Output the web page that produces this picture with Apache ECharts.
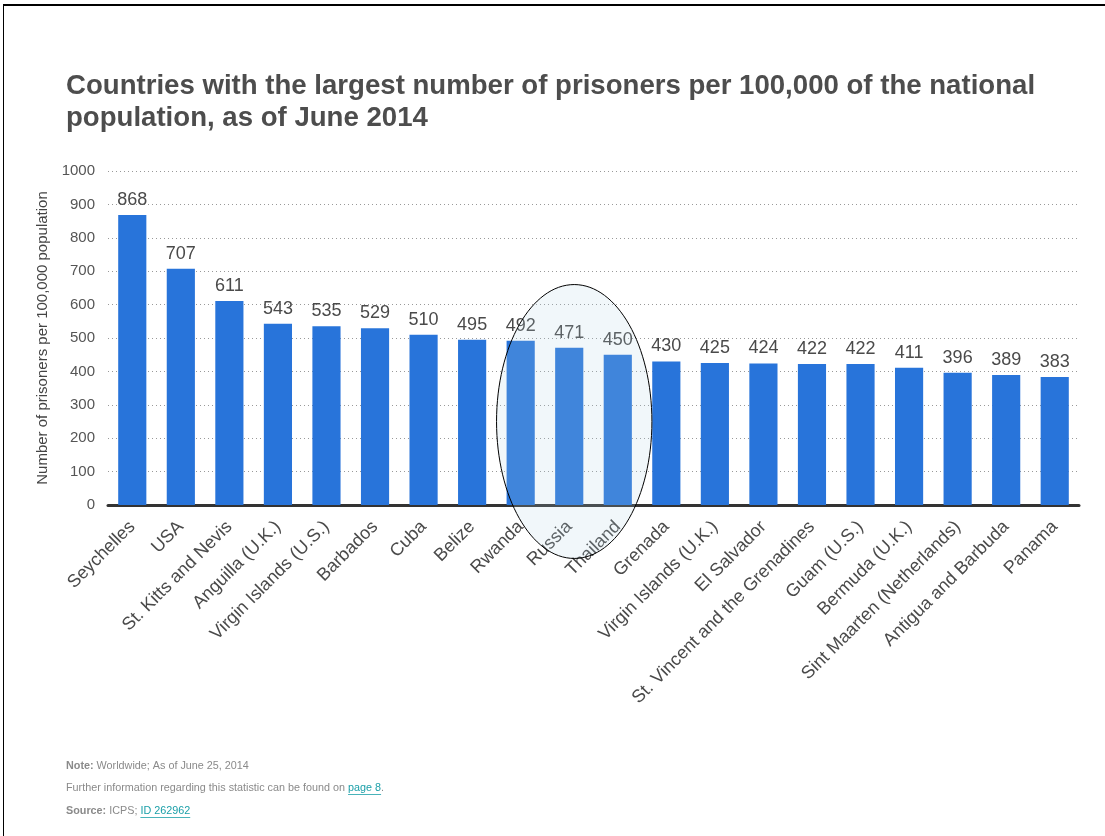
<!DOCTYPE html>
<html><head><meta charset="utf-8">
<script src="https://cdn.jsdelivr.net/npm/echarts@6/dist/echarts.min.js"></script>
<style>
html,body{margin:0;padding:0;background:#fff;}
#frame{position:absolute;left:3px;top:4px;width:1102px;height:832px;border-top:2px solid #000;border-left:1px solid #000;box-sizing:border-box;}
#chart{position:absolute;left:0;top:0;width:1105px;height:836px;}
</style></head>
<body>
<div id="frame"></div>
<div id="chart"></div>
<script>
const categories = ['Seychelles','USA','St. Kitts and Nevis','Anguilla (U.K.)','Virgin Islands (U.S.)','Barbados','Cuba','Belize','Rwanda','Russia','Thailand','Grenada','Virgin Islands (U.K.)','El Salvador','St. Vincent and the Grenadines','Guam (U.S.)','Bermuda (U.K.)','Sint Maarten (Netherlands)','Antigua and Barbuda','Panama'];
const values = [868,707,611,543,535,529,510,495,492,471,450,430,425,424,422,422,411,396,389,383];
const yTicks = [0,100,200,300,400,500,600,700,800,900,1000];

(function(){
const FONT = 'Liberation Sans, Arial, sans-serif';
const chart = echarts.init(document.getElementById('chart'), null, {renderer:'canvas'});
const option = {
  animation:false,
  textStyle:{fontFamily:FONT},
  title:{
    text:'Countries with the largest number of prisoners per 100,000 of the national\npopulation, as of June 2014',
    left:61, top:65,
    textStyle:{fontFamily:FONT,fontSize:27.6,fontWeight:'bold',color:'#4d4d4d',lineHeight:32}
  },
  grid:{left:108,right:26,top:171,bottom:331,containLabel:false},
  xAxis:{
    type:'category', data:categories,
    axisLine:{show:true,lineStyle:{color:'#333',width:3}},
    axisTick:{show:false},
    axisLabel:{interval:0,rotate:45,fontSize:18,color:'#4a4a4a',margin:19,fontFamily:FONT}
  },
  yAxis:{
    type:'value', min:yTicks[0], max:yTicks[yTicks.length-1], interval:100,
    name:'Number of prisoners per 100,000 population',
    nameLocation:'middle', nameGap:50, nameRotate:90,
    nameTextStyle:{fontSize:15,color:'#444',fontFamily:FONT},
    axisLine:{show:false}, axisTick:{show:false},
    axisLabel:{fontSize:15,color:'#555',margin:13,fontFamily:FONT,formatter:function(v){return String(v);}},
    splitLine:{show:true,lineStyle:{color:'#999',type:[1,3],width:1}}
  },
  series:[{
    type:'bar', data:values, barCategoryGap:'42%',
    itemStyle:{color:'#2874DA'},
    label:{show:true,position:'top',distance:6,fontSize:18,color:'#4a4a4a',fontFamily:FONT}
  }]
};
chart.setOption(option);

const c = chart.convertToPixel({xAxisIndex:0,yAxisIndex:0},['Russia',250]);
const a = chart.convertToPixel({xAxisIndex:0,yAxisIndex:0},['Rwanda',0]);
const catW = c[0]-a[0];
const yTop = chart.convertToPixel({yAxisIndex:0},660);
const cx = c[0]+5, cy = c[1];

const FS = 10.8;
const ctx = document.createElement('canvas').getContext('2d');
ctx.font = FS+'px '+FONT;
const pX = 66 + ctx.measureText('Further information regarding this statistic can be found on ').width;
const pW = ctx.measureText('page 8').width;
ctx.font = 'bold '+FS+'px '+FONT;
const sW = ctx.measureText('Source:').width;
ctx.font = FS+'px '+FONT;
const iX = 66 + sW + ctx.measureText(' ICPS; ').width;
const iW = ctx.measureText('ID 262962').width;
const LINK = '#1a9fa8', GREY = '#8a8a8a';

chart.setOption({
  graphic:[
    {type:'ellipse',z:100,shape:{cx:cx,cy:cy,rx:catW*1.6,ry:cy-yTop},
     style:{fill:'rgba(180,210,225,0.18)',stroke:'#000',lineWidth:1}},
    {type:'text',left:66,top:761,z:100,style:{
      text:'{b|Note:} Worldwide; As of June 25, 2014',
      rich:{b:{fontWeight:'bold',fontSize:FS,fill:GREY,fontFamily:FONT}},
      font:FS+'px '+FONT, fill:GREY}},
    {type:'text',left:66,top:783,z:100,style:{
      text:'Further information regarding this statistic can be found on {l|page 8}.',
      rich:{l:{fontSize:FS,fill:LINK,fontFamily:FONT}},
      font:FS+'px '+FONT, fill:GREY}},
    {type:'text',left:66,top:806,z:100,style:{
      text:'{b|Source:} ICPS; {l|ID 262962}',
      rich:{b:{fontWeight:'bold',fontSize:FS,fill:GREY,fontFamily:FONT},l:{fontSize:FS,fill:LINK,fontFamily:FONT}},
      font:FS+'px '+FONT, fill:GREY}},
    {type:'line',z:100,shape:{x1:pX,y1:794.5,x2:pX+pW,y2:794.5},style:{stroke:LINK,lineWidth:0.8}},
    {type:'line',z:100,shape:{x1:iX,y1:817.5,x2:iX+iW,y2:817.5},style:{stroke:LINK,lineWidth:0.8}}
  ]
});
})();
</script>
</body></html>
